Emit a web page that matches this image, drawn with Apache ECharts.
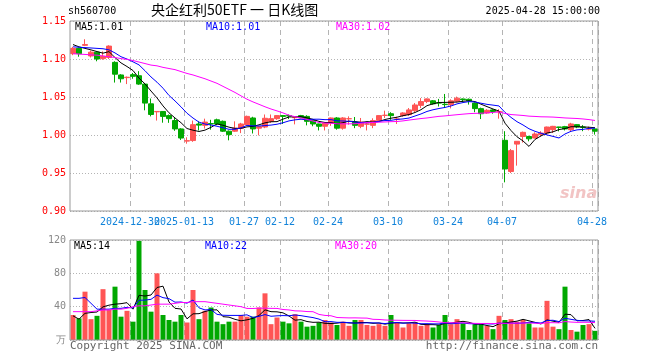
<!DOCTYPE html>
<html><head><meta charset="utf-8">
<script src="https://cdn.jsdelivr.net/npm/echarts@6/dist/echarts.min.js"></script>
<style>html,body{margin:0;padding:0;background:#fff}#c{width:660px;height:360px}</style>
</head><body><div id="c"></div>
<script>
const dates = ['2024-12-16','2024-12-17','2024-12-18','2024-12-19','2024-12-20','2024-12-23','2024-12-24','2024-12-25','2024-12-26','2024-12-27','2024-12-30','2024-12-31',
'2025-01-02','2025-01-03','2025-01-06','2025-01-07','2025-01-08','2025-01-09','2025-01-10','2025-01-13','2025-01-14','2025-01-15','2025-01-16','2025-01-17','2025-01-20','2025-01-21','2025-01-22','2025-01-23','2025-01-24','2025-01-27',
'2025-02-05','2025-02-06','2025-02-07','2025-02-10','2025-02-11','2025-02-12','2025-02-13','2025-02-14','2025-02-17','2025-02-18','2025-02-19','2025-02-20','2025-02-21','2025-02-24','2025-02-25','2025-02-26','2025-02-27','2025-02-28',
'2025-03-03','2025-03-04','2025-03-05','2025-03-06','2025-03-07','2025-03-10','2025-03-11','2025-03-12','2025-03-13','2025-03-14','2025-03-17','2025-03-18','2025-03-19','2025-03-20','2025-03-21','2025-03-24','2025-03-25','2025-03-26','2025-03-27','2025-03-28','2025-03-31',
'2025-04-01','2025-04-02','2025-04-03','2025-04-07','2025-04-08','2025-04-09','2025-04-10','2025-04-11','2025-04-14','2025-04-15','2025-04-16','2025-04-17','2025-04-18','2025-04-21','2025-04-22','2025-04-23','2025-04-24','2025-04-25','2025-04-28'];

const opens = [1.107,1.114,1.118,1.104,1.109,1.1005,1.102,1.0956,1.079,1.0755,1.0794,1.078,1.067,1.041,1.0305,1.031,1.0255,1.019,1.008,0.992,
0.9927,1.0145,1.0127,1.015,1.020,1.018,1.005,1.005,1.009,1.0136,1.0224,1.009,1.0105,1.018,1.0215,1.0255,1.0255,1.0228,1.0255,1.0245,
1.019,1.0145,1.0115,1.0158,1.0224,1.009,1.0213,1.017,1.0114,1.0143,1.0127,1.019,1.0258,1.028,1.0208,1.0255,1.0268,1.032,1.039,1.044,
1.045,1.0425,1.0405,1.040,1.0445,1.0474,1.047,1.042,1.0347,1.029,1.033,1.0305,0.993,0.952,0.988,0.998,0.998,0.996,1.0005,1.0026,
1.007,1.0105,1.011,1.007,1.0136,1.0105,1.0078,1.008];
const closes = [1.114,1.107,1.119,1.109,1.100,1.1035,1.117,1.080,1.074,1.076,1.0772,1.067,1.042,1.027,1.031,1.0245,1.0215,1.008,0.996,0.9925,
1.0136,1.013,1.017,1.0145,1.0145,1.005,1.0005,1.009,1.0145,1.0245,1.008,1.011,1.022,1.0215,1.0255,1.0245,1.025,1.023,1.0225,1.018,
1.0145,1.0115,1.0158,1.0224,1.009,1.0224,1.0215,1.0127,1.017,1.0145,1.019,1.0255,1.026,1.0255,1.021,1.029,1.033,1.0395,1.044,1.0475,
1.041,1.042,1.040,1.045,1.0485,1.0465,1.045,1.0347,1.028,1.0325,1.031,1.031,0.9553,0.9794,0.9917,1.0035,0.995,1.0013,1.0026,1.0105,
1.0114,1.010,1.008,1.0145,1.0105,1.010,1.008,1.005];
const lows = [1.105,1.103,1.117,1.102,1.097,1.099,1.100,1.069,1.069,1.067,1.074,1.066,1.0325,1.0245,1.019,1.0162,1.016,1.0055,0.9935,0.9886,
0.991,1.006,1.0085,1.007,1.013,1.004,0.993,1.004,1.0025,1.0125,1.002,0.9995,1.009,1.016,1.020,1.0145,1.021,1.014,1.022,1.0127,
1.0115,1.006,1.006,1.012,1.007,1.007,1.0136,1.009,1.009,1.006,1.009,1.018,1.0224,1.020,1.0145,1.024,1.025,1.030,1.0355,1.042,
1.040,1.0375,1.0355,1.035,1.043,1.043,1.040,1.030,1.021,1.028,1.028,1.0215,0.9377,0.950,0.9597,0.990,0.9917,0.9955,0.998,1.000,
1.0026,1.0048,1.006,1.005,1.009,1.005,1.006,1.0005];
const highs = [1.116,1.115,1.126,1.111,1.110,1.110,1.118,1.097,1.080,1.077,1.0816,1.084,1.068,1.048,1.031,1.031,1.027,1.023,1.009,0.997,
1.019,1.018,1.0215,1.020,1.0215,1.019,1.006,1.018,1.016,1.0255,1.024,1.012,1.027,1.027,1.026,1.026,1.027,1.024,1.0265,1.026,
1.020,1.015,1.016,1.023,1.0235,1.0235,1.0245,1.0237,1.0224,1.017,1.022,1.026,1.032,1.030,1.024,1.030,1.0355,1.042,1.0485,1.048,
1.046,1.0475,1.054,1.047,1.0505,1.048,1.048,1.043,1.036,1.034,1.034,1.034,1.005,0.9816,0.992,1.0045,0.999,1.0035,1.005,1.011,
1.012,1.0107,1.012,1.016,1.014,1.013,1.011,1.008];
const volumes = [30,26,58,25,29,61,36,64,28,35,22,119,60,34,80,30,24,22,30,21,60,25,35,39,22,19,22,22,30,28,28,39,
56,19,27,22,20,31,22,16,17,21,24,21,18,22,17,24,24,18,17,19,17,30,21,15,20,21,17,19,15,18,30,19,
25,20,12,19,19,17,13,29,24,25,22,24,20,15,15,47,16,13,64,12,10,18,19,11];

const ma5Head = [1.119,1.116,1.114,1.112];
const ma10Head = [1.116,1.1155,1.115,1.1145,1.114,1.1135,1.112,1.108,1.103];
const ma30Head = [1.107,1.1065,1.106,1.1055,1.105,1.104,1.103,1.102,1.1005,1.0995,1.098,1.096,1.094,1.092,1.091,1.089,1.0875,1.086,1.0835,1.081,1.079,1.0765,1.074,1.071,1.068,1.064,1.060,1.056,1.0515];
const volMa5Head = [29,25,32,33];
const volMa10Head = [50,50,51,44,37,37,37,38,38];
const volMa30Head = [34,34,34,34,35,36,36,37,37,38,40,41,41,42,43,43,43,44,45,45,46,46,46,45,44,43,42,41,40];

const tickDates = ['2024-12-30','2025-01-13','2025-01-27','2025-02-12','2025-02-24','2025-03-10','2025-03-24','2025-04-07','2025-04-28'];
const tickLabels = ['2024-12-30','2025-01-13','01-27','02-12','02-24','03-10','03-24','04-07','04-28'];

const UP = '#ff5555', DOWN = '#00a800';
const MONO = "'DejaVu Sans Mono', monospace";

function ma(arr, n, head) {
  return arr.map((v, i) => {
    if (i < n - 1) return head[i];
    let s = 0;
    for (let k = i - n + 1; k <= i; k++) s += arr[k];
    return s / n;
  });
}
const pMa5 = ma(closes, 5, ma5Head), pMa10 = ma(closes, 10, ma10Head), pMa30 = ma(closes, 30, ma30Head);
const vMa5 = ma(volumes, 5, volMa5Head), vMa10 = ma(volumes, 10, volMa10Head), vMa30 = ma(volumes, 30, volMa30Head);
const last = a => a[a.length - 1];

const kData = dates.map((d, i) => [opens[i], closes[i], lows[i], highs[i]]);
const vData = volumes.map((v, i) => ({ value: v, itemStyle: { color: closes[i] >= opens[i] ? UP : DOWN } }));

const isTick = (idx, val) => tickDates.indexOf(val) >= 0;
// labels split over two axes so the overlapping pair is both drawn, as in the original
const isEvenTick = (idx, val) => { const k = tickDates.indexOf(val); return k >= 0 && k % 2 === 0; };
const isOddTick = (idx, val) => { const k = tickDates.indexOf(val); return k >= 0 && k % 2 === 1; };
const dashed = { show: true, interval: isTick, lineStyle: { color: '#b4b4b4', type: [5, 4], width: 1 } };
const dotted = { show: true, lineStyle: { color: '#b4b4b4', type: [1, 2], width: 1 } };
const xLabel = fn => ({ interval: fn, formatter: v => tickLabels[tickDates.indexOf(v)], color: '#1183da', fontFamily: MONO, fontSize: 10, margin: 6, padding: [0, 6, 0, 0], hideOverlap: false });

const chart = echarts.init(document.getElementById('c'), null, { renderer: 'canvas' });
chart.setOption({
  animation: false,
  backgroundColor: '#fff',
  grid: [
    { left: 70, top: 21, width: 528, height: 190, show: true, borderColor: '#999', borderWidth: 1, backgroundColor: 'transparent', z: 3 },
    { left: 70, top: 240, width: 528, height: 100, show: true, borderColor: '#999', borderWidth: 1, backgroundColor: 'transparent', z: 3 }
  ],
  xAxis: [
    { type: 'category', gridIndex: 0, data: dates, boundaryGap: true, position: 'bottom', offset: 0,
      axisLine: { show: false }, axisTick: { show: false },
      axisLabel: xLabel(isEvenTick),
      splitLine: dashed },
    { type: 'category', gridIndex: 1, data: dates, boundaryGap: true,
      axisLine: { show: false }, axisTick: { show: false }, axisLabel: { show: false },
      splitLine: dashed },
    { type: 'category', gridIndex: 0, data: dates, boundaryGap: true, position: 'bottom', offset: 0,
      axisLine: { show: false }, axisTick: { show: false },
      axisLabel: xLabel(isOddTick),
      splitLine: { show: false } }
  ],
  yAxis: [
    { type: 'value', gridIndex: 0, min: 0.9, max: 1.15, interval: 0.05, scale: true,
      axisLine: { show: false }, axisTick: { show: false },
      axisLabel: { color: '#ff0000', fontFamily: MONO, fontSize: 10, margin: 4, formatter: v => v.toFixed(2) },
      splitLine: dotted },
    { type: 'value', gridIndex: 1, min: 0, max: 120, interval: 40,
      axisLine: { show: false }, axisTick: { show: false },
      axisLabel: { color: '#888', fontFamily: MONO, fontSize: 10, margin: 4, formatter: v => v === 0 ? '万' : String(v) },
      splitLine: dotted }
  ],
  series: [
    { type: 'candlestick', xAxisIndex: 0, yAxisIndex: 0, data: kData, barWidth: 5, clip: false,
      itemStyle: { color: UP, color0: DOWN, borderColor: UP, borderColor0: DOWN, borderWidth: 1 } },
    { type: 'line', xAxisIndex: 0, yAxisIndex: 0, data: pMa5, showSymbol: false, symbol: 'none', lineStyle: { color: '#000', width: 1 }, z: 4 },
    { type: 'line', xAxisIndex: 0, yAxisIndex: 0, data: pMa10, showSymbol: false, symbol: 'none', lineStyle: { color: '#0000ff', width: 1 }, z: 4 },
    { type: 'line', xAxisIndex: 0, yAxisIndex: 0, data: pMa30, showSymbol: false, symbol: 'none', lineStyle: { color: '#ff00ff', width: 1 }, z: 4 },
    { type: 'bar', xAxisIndex: 1, yAxisIndex: 1, data: vData, barWidth: 5 },
    { type: 'line', xAxisIndex: 1, yAxisIndex: 1, data: vMa5, showSymbol: false, symbol: 'none', lineStyle: { color: '#000', width: 1 }, z: 4 },
    { type: 'line', xAxisIndex: 1, yAxisIndex: 1, data: vMa10, showSymbol: false, symbol: 'none', lineStyle: { color: '#0000ff', width: 1 }, z: 4 },
    { type: 'line', xAxisIndex: 1, yAxisIndex: 1, data: vMa30, showSymbol: false, symbol: 'none', lineStyle: { color: '#ff00ff', width: 1 }, z: 4 }
  ],
  graphic: [
    { type: 'text', left: 68, top: 6, style: { text: 'sh560700', fill: '#000', font: '10px ' + MONO } },
    { type: 'text', left: 151, top: 3, style: { text: '央企红利50ETF 一 日K线图', fill: '#000', font: "14px 'Noto Sans CJK SC', sans-serif" } },
    { type: 'text', right: 60, top: 6, style: { text: '2025-04-28 15:00:00', fill: '#000', font: '10px ' + MONO } },
    { type: 'text', left: 75, top: 22, z: 10, style: { text: 'MA5:' + last(pMa5).toFixed(2), fill: '#000', font: '10px ' + MONO } },
    { type: 'text', left: 206, top: 22, z: 10, style: { text: 'MA10:' + last(pMa10).toFixed(2), fill: '#0000ff', font: '10px ' + MONO } },
    { type: 'text', left: 336, top: 22, z: 10, style: { text: 'MA30:' + last(pMa30).toFixed(2), fill: '#ff00ff', font: '10px ' + MONO } },
    { type: 'text', left: 74, top: 241, z: 10, style: { text: 'MA5:' + Math.floor(last(vMa5)), fill: '#000', font: '10px ' + MONO } },
    { type: 'text', left: 205, top: 241, z: 10, style: { text: 'MA10:' + Math.floor(last(vMa10)), fill: '#0000ff', font: '10px ' + MONO } },
    { type: 'text', left: 335, top: 241, z: 10, style: { text: 'MA30:' + Math.floor(last(vMa30)), fill: '#ff00ff', font: '10px ' + MONO } },
    { type: 'text', left: 70, top: 341, style: { text: 'Copyright 2025 SINA.COM', fill: '#666', font: '11px ' + MONO } },
    { type: 'text', right: 62, top: 341, style: { text: 'http://finance.sina.com.cn', fill: '#666', font: '11px ' + MONO } },
    { type: 'text', left: 560, top: 186, z: 1, style: { text: 'sina', fill: '#f2c4c4', font: "italic bold 16px 'DejaVu Sans', sans-serif" } }
  ]
});
</script>
</body></html>
